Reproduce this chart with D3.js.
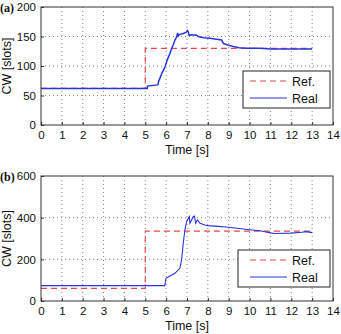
<!DOCTYPE html>
<html>
<head>
<meta charset="utf-8">
<script src="https://cdn.jsdelivr.net/npm/d3@7"></script>
<style>
  body { margin: 0; background: #fff; }
  svg { display: block; }
  text { font-family: "Liberation Sans", Arial, sans-serif; fill: #111; }
</style>
</head>
<body>
<div id="chart"></div>
<script>
// Time ticks shared by both panels
const xTicks = [0, 1, 2, 3, 4, 5, 6, 7, 8, 9, 10, 11, 12, 13, 14];

// Panel (a)
const refTimeA = [0, 5, 5, 13];
const refValA = [62, 62, 130, 130];
const realTimeA = [0, 5.1, 5.1, 5.6, 5.65, 5.7, 5.8, 5.9, 5.95, 6.05, 6.18, 6.27, 6.35, 6.42, 6.5, 6.55, 6.58, 6.62, 6.7, 6.82, 6.95, 7.02, 7.06, 7.1, 7.22, 7.46, 7.54, 7.8, 8.1, 8.5, 8.66, 8.75, 9.0, 9.22, 9.5, 9.86, 10.5, 11, 12, 13];
const realValA = [62, 62, 66, 68, 75, 79, 88, 95, 99, 110, 121, 130, 137, 144, 149, 156, 151, 153, 154, 155, 157, 160, 158, 152, 153, 152, 150, 148, 147, 145, 144, 138, 135, 133, 131, 130, 130, 129, 129, 129];
const yTicksA = [0, 50, 100, 150, 200];

// Panel (b)
const refTimeB = [0, 5, 5, 13];
const refValB = [61, 61, 335, 335];
const realTimeB = [0, 5.94, 5.99, 6.18, 6.42, 6.66, 6.74, 6.82, 6.9, 6.98, 7.11, 7.14, 7.22, 7.3, 7.36, 7.41, 7.5, 7.62, 7.86, 8.0, 8.5, 9.0, 9.5, 10.0, 10.5, 11.0, 11.2, 12.0, 12.5, 12.7, 13.0];
const realValB = [74, 74, 109, 120, 133, 157, 197, 277, 341, 381, 405, 373, 389, 405, 408, 373, 389, 373, 365, 362, 358, 354, 348, 342, 337, 327, 324, 326, 330, 333, 328];
const yTicksB = [0, 200, 400, 600];

const W = 341, H = 334;
const svg = d3.select('#chart').append('svg').attr('width', W).attr('height', H);

function drawPanel(cfg) {
  const x = d3.scaleLinear().domain([0, 14]).range([41, 333]);
  const y = d3.scaleLinear().domain(cfg.yDomain).range([cfg.bottom, cfg.top]);

  // grid
  const g = svg.append('g');
  g.selectAll('.vg').data(xTicks.slice(1, -1)).enter().append('line')
    .attr('x1', d => x(d)).attr('x2', d => x(d))
    .attr('y1', cfg.top).attr('y2', cfg.bottom)
    .attr('stroke', '#666').attr('stroke-width', 0.8).attr('stroke-dasharray', '1,3');
  g.selectAll('.hg').data(cfg.yTicks.slice(1, -1)).enter().append('line')
    .attr('x1', 41).attr('x2', 333)
    .attr('y1', d => y(d)).attr('y2', d => y(d))
    .attr('stroke', '#666').attr('stroke-width', 0.8).attr('stroke-dasharray', '1,3');

  // axes (ticks inward)
  const xAxis = svg.append('g').attr('transform', `translate(0,${cfg.bottom})`)
    .call(d3.axisBottom(x).tickValues(xTicks).tickSize(-3).tickPadding(6).tickFormat(d3.format('d')));
  const yAxis = svg.append('g').attr('transform', 'translate(41,0)')
    .call(d3.axisLeft(y).tickValues(cfg.yTicks).tickSize(-3).tickPadding(5).tickFormat(d3.format('d')));
  [xAxis, yAxis].forEach(a => {
    a.select('.domain').remove();
    a.selectAll('line').attr('stroke', '#333');
    a.selectAll('text').attr('font-size', 11.5).attr('fill', '#222')
      .style('font-family', '"Liberation Sans", Arial, sans-serif');
  });

  // lines
  const line = d3.line().x(d => x(d[0])).y(d => y(d[1]));
  svg.append('path')
    .datum(d3.zip(cfg.refT, cfg.refV))
    .attr('d', line).attr('fill', 'none')
    .attr('stroke', '#e8474a').attr('stroke-width', 1.2).attr('stroke-dasharray', '6,4');
  svg.append('path')
    .datum(d3.zip(cfg.realT, cfg.realV))
    .attr('d', line).attr('fill', 'none')
    .attr('stroke', '#2a35dc').attr('stroke-width', cfg.realW);

  // frame
  svg.append('rect')
    .attr('x', 41).attr('y', cfg.top).attr('width', 292).attr('height', cfg.bottom - cfg.top)
    .attr('fill', 'none').attr('stroke', '#333').attr('stroke-width', 1);

  // axis titles
  svg.append('text').attr('x', 187).attr('y', cfg.bottom + 29)
    .attr('text-anchor', 'middle').attr('font-size', 12.5).text('Time [s]');
  svg.append('text')
    .attr('transform', `translate(11,${(cfg.top + cfg.bottom) / 2}) rotate(-90)`)
    .attr('text-anchor', 'middle').attr('font-size', 12.5).text('CW [slots]');

  // panel label
  svg.append('text').attr('x', 0).attr('y', cfg.top + 5)
    .attr('font-size', 12).attr('font-weight', 'bold')
    .style('font-family', '"Liberation Serif", "Times New Roman", serif')
    .text(cfg.label);

  // legend
  const lg = svg.append('g').attr('transform', `translate(${cfg.legX},${cfg.legY})`);
  lg.append('rect').attr('width', cfg.legW).attr('height', 37)
    .attr('fill', '#fff').attr('stroke', '#222').attr('stroke-width', 1);
  const items = [
    { name: 'Ref.', color: '#e8474a', dash: '6,4', w: 1.2 },
    { name: 'Real', color: '#2a35dc', dash: null, w: 1.2 }
  ];
  items.forEach((it, i) => {
    const cy = 10 + i * 17;
    lg.append('line').attr('x1', cfg.legW - 80).attr('x2', cfg.legW - 43)
      .attr('y1', cy).attr('y2', cy)
      .attr('stroke', it.color).attr('stroke-width', it.w)
      .attr('stroke-dasharray', it.dash);
    lg.append('text').attr('x', cfg.legW - 38).attr('y', cy + 4.5)
      .attr('font-size', 12.5).text(it.name);
  });
}

drawPanel({ label: '(a)', top: 7, bottom: 125, yDomain: [0, 200], yTicks: yTicksA,
  refT: refTimeA, refV: refValA, realT: realTimeA, realV: realValA, realW: 1.5,
  legX: 243, legY: 71, legW: 87 });
drawPanel({ label: '(b)', top: 176, bottom: 301, yDomain: [0, 600], yTicks: yTicksB,
  refT: refTimeB, refV: refValB, realT: realTimeB, realV: realValB, realW: 1.1,
  legX: 238, legY: 250, legW: 92 });
</script>
</body>
</html>
